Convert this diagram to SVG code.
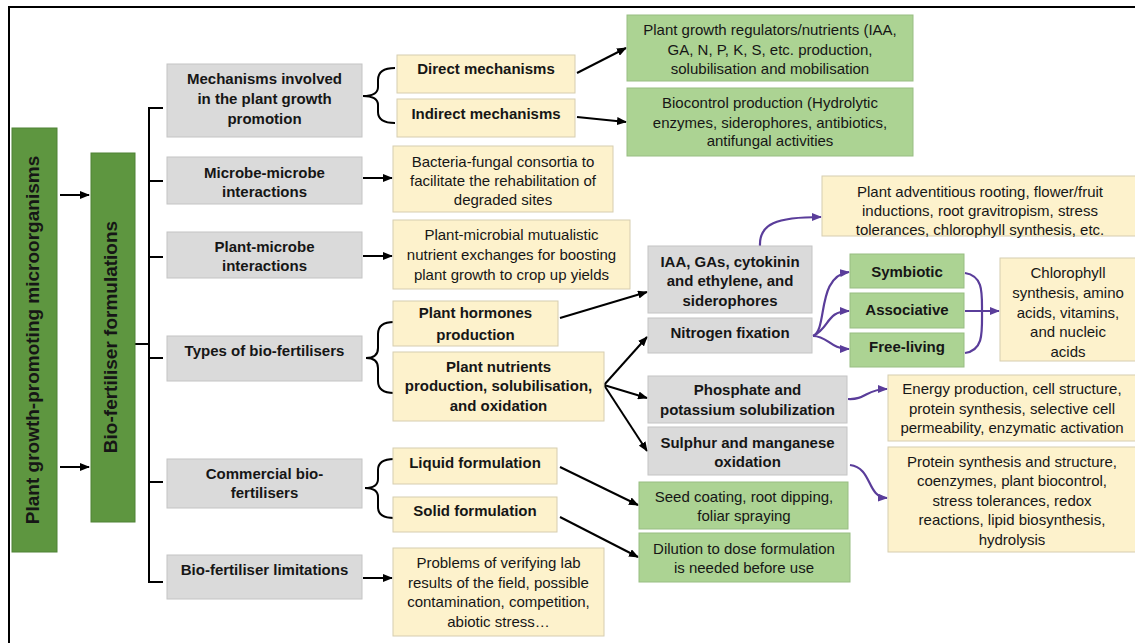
<svg xmlns="http://www.w3.org/2000/svg" width="1135" height="643" viewBox="0 0 1135 643">
<defs>
<style>
.g{fill:#dadada;stroke:#c4c4c4;stroke-width:1}
.y{fill:#fdf2cc;stroke:#d6cdb0;stroke-width:1}
.lg{fill:#acd393;stroke:#98bd82;stroke-width:1}
.dg{fill:#5e9640;stroke:#4f8234;stroke-width:1}
text{font-family:"Liberation Sans",Arial,sans-serif;fill:#161616;text-anchor:middle}
.b{font-size:15px;font-weight:bold}
.r{font-size:15px}
.v{font-size:19px;font-weight:bold}
.k{fill:none;stroke:#000;stroke-width:2}
.ka{fill:none;stroke:#000;stroke-width:2;marker-end:url(#ah)}
.p{fill:none;stroke:#5a3d9a;stroke-width:2.2}
.pa{fill:none;stroke:#5a3d9a;stroke-width:2.2;marker-end:url(#ph)}
</style>
<marker id="ah" markerUnits="userSpaceOnUse" markerWidth="10" markerHeight="8" refX="9" refY="4" orient="auto"><path d="M0,0 L10,4 L0,8 Z" fill="#000"/></marker>
<marker id="ph" markerUnits="userSpaceOnUse" markerWidth="10" markerHeight="8" refX="9" refY="4" orient="auto"><path d="M0,0 L10,4 L0,8 Z" fill="#5a3d9a"/></marker>
</defs>
<rect width="1135" height="643" fill="#fff"/>
<path d="M9,643 V7 H1135" fill="none" stroke="#000" stroke-width="2"/>

<g id="connectors">
<line class="ka" x1="60" y1="195" x2="89" y2="195"/>
<line class="ka" x1="60" y1="467" x2="89" y2="467"/>
<line class="k" x1="135" y1="344" x2="149" y2="344"/>
<path class="k" d="M163,108 H149 V582 H163 M149,181 H163 M149,257 H163 M149,358 H163 M149,482 H163"/>
<line class="ka" x1="363" y1="178" x2="392" y2="178"/>
<line class="ka" x1="363" y1="256" x2="392" y2="256"/>
<line class="ka" x1="363" y1="578" x2="392" y2="578"/>
<path class="k" d="M395,68 Q378,68 378,80 V87 Q378,96 363,96 Q378,96 378,105 V112 Q378,123 395,123"/>
<path class="k" d="M394,322 Q378,322 378,334 V348 Q378,358 366,358 Q378,358 378,368 V381 Q378,393 394,393"/>
<path class="k" d="M394,459 Q378,459 378,470 V479 Q378,488 365,488 Q378,488 378,497 V507 Q378,518 394,518"/>
<line class="ka" x1="577" y1="73" x2="626" y2="48"/>
<line class="ka" x1="577" y1="117" x2="626" y2="122"/>
<line class="ka" x1="560" y1="318" x2="647" y2="292"/>
<line class="ka" x1="604" y1="385" x2="647" y2="337"/>
<line class="ka" x1="604" y1="385" x2="647" y2="398"/>
<line class="ka" x1="604" y1="385" x2="647" y2="451"/>
<line class="ka" x1="560" y1="467" x2="638" y2="505"/>
<line class="ka" x1="560" y1="517" x2="638" y2="557"/>
<path class="pa" d="M760,246 C759,224 776,217 821,217"/>
<path class="pa" d="M813,336 C828,330 816,276 849,272"/>
<path class="pa" d="M813,336 C830,328 826,311 849,311"/>
<path class="pa" d="M813,336 C828,336 830,349 849,349"/>
<path class="p" d="M965,273 C983,276 982,292 982,310 C982,332 984,350 965,353"/>
<path class="pa" d="M965,311 H999"/>
<path class="pa" d="M848,399 C866,400 866,389 887,389"/>
<path class="pa" d="M850,465 C873,468 866,497 887,498"/>
</g>

<g id="pgpm"><rect class="dg" x="12" y="128" width="45" height="424"/><text class="v" transform="translate(39,340) rotate(-90)">Plant growth-promoting microorganisms</text></g>
<g id="bff"><rect class="dg" x="91" y="153" width="44" height="369"/><text class="v" transform="translate(117,337) rotate(-90)">Bio-fertiliser formulations</text></g>

<g id="mech"><rect class="g" x="167" y="64" width="195" height="73"/><text class="b" x="264.5" y="84">Mechanisms involved</text><text class="b" x="264.5" y="104">in the plant growth</text><text class="b" x="264.5" y="124">promotion</text></g>
<g id="mm"><rect class="g" x="167" y="157" width="195" height="47"/><text class="b" x="264.5" y="178">Microbe-microbe</text><text class="b" x="264.5" y="197">interactions</text></g>
<g id="pm"><rect class="g" x="167" y="232" width="195" height="46"/><text class="b" x="264.5" y="252">Plant-microbe</text><text class="b" x="264.5" y="271">interactions</text></g>
<g id="types"><rect class="g" x="167" y="336" width="195" height="45"/><text class="b" x="264.5" y="356">Types of bio-fertilisers</text></g>
<g id="comm"><rect class="g" x="167" y="459" width="195" height="49"/><text class="b" x="264.5" y="479">Commercial bio-</text><text class="b" x="264.5" y="498">fertilisers</text></g>
<g id="lim"><rect class="g" x="167" y="555" width="195" height="44"/><text class="b" x="264.5" y="575">Bio-fertiliser limitations</text></g>

<g id="direct"><rect class="y" x="397" y="55" width="178" height="38"/><text class="b" x="486" y="74">Direct mechanisms</text></g>
<g id="indirect"><rect class="y" x="397" y="99" width="178" height="38"/><text class="b" x="486" y="119">Indirect mechanisms</text></g>
<g id="pgr"><rect class="lg" x="627" y="15" width="286" height="66"/><text class="r" x="770" y="35">Plant growth regulators/nutrients (IAA,</text><text class="r" x="770" y="55">GA, N, P, K, S, etc. production,</text><text class="r" x="770" y="74">solubilisation and mobilisation</text></g>
<g id="bio"><rect class="lg" x="627" y="88" width="286" height="68"/><text class="r" x="770" y="108">Biocontrol production (Hydrolytic</text><text class="r" x="770" y="128">enzymes, siderophores, antibiotics,</text><text class="r" x="770" y="146">antifungal activities</text></g>
<g id="bact"><rect class="y" x="393" y="146" width="220" height="66"/><text class="r" x="503" y="167">Bacteria-fungal consortia to</text><text class="r" x="503" y="186">facilitate the rehabilitation of</text><text class="r" x="503" y="205">degraded sites</text></g>
<g id="plmic"><rect class="y" x="393" y="220" width="237" height="69"/><text class="r" x="511.5" y="240">Plant-microbial mutualistic</text><text class="r" x="511.5" y="260">nutrient exchanges for boosting</text><text class="r" x="511.5" y="280">plant growth to crop up yields</text></g>
<g id="horm"><rect class="y" x="393" y="301" width="165" height="45"/><text class="b" x="475.5" y="318">Plant hormones</text><text class="b" x="475.5" y="340">production</text></g>
<g id="nutr"><rect class="y" x="393" y="352" width="211" height="69"/><text class="b" x="498.5" y="372">Plant nutrients</text><text class="b" x="498.5" y="391">production, solubilisation,</text><text class="b" x="498.5" y="411">and oxidation</text></g>
<g id="liquid"><rect class="y" x="393" y="448" width="164" height="36"/><text class="b" x="475" y="468">Liquid formulation</text></g>
<g id="solid"><rect class="y" x="393" y="497" width="164" height="35"/><text class="b" x="475" y="516">Solid formulation</text></g>
<g id="prob"><rect class="y" x="393" y="548" width="211" height="88"/><text class="r" x="498.5" y="568">Problems of verifying lab</text><text class="r" x="498.5" y="588">results of the field, possible</text><text class="r" x="498.5" y="607">contamination, competition,</text><text class="r" x="498.5" y="627">abiotic stress…</text></g>

<g id="iaa"><rect class="g" x="648" y="246" width="164" height="67"/><text class="b" x="730" y="267">IAA, GAs, cytokinin</text><text class="b" x="730" y="286">and ethylene, and</text><text class="b" x="730" y="306">siderophores</text></g>
<g id="nf"><rect class="g" x="648" y="318" width="164" height="35"/><text class="b" x="730" y="338">Nitrogen fixation</text></g>
<g id="phos"><rect class="g" x="648" y="376" width="199" height="47"/><text class="b" x="747.5" y="395">Phosphate and</text><text class="b" x="747.5" y="415">potassium solubilization</text></g>
<g id="sulph"><rect class="g" x="648" y="427" width="199" height="48"/><text class="b" x="747.5" y="448">Sulphur and manganese</text><text class="b" x="747.5" y="467">oxidation</text></g>
<g id="seed"><rect class="lg" x="639" y="482" width="209" height="47"/><text class="r" x="744" y="502">Seed coating, root dipping,</text><text class="r" x="744" y="521">foliar spraying</text></g>
<g id="dil"><rect class="lg" x="639" y="533" width="211" height="49"/><text class="r" x="744" y="554">Dilution to dose formulation</text><text class="r" x="744" y="573">is needed before use</text></g>

<g id="adv"><rect class="y" x="822" y="176" width="320" height="60"/><text class="r" x="980" y="197">Plant adventitious rooting, flower/fruit</text><text class="r" x="980" y="216">inductions, root gravitropism, stress</text><text class="r" x="980" y="235">tolerances, chlorophyll synthesis, etc.</text></g>
<g id="symb"><rect class="lg" x="850" y="254" width="114" height="34"/><text class="b" x="907" y="277">Symbiotic</text></g>
<g id="assoc"><rect class="lg" x="850" y="293" width="114" height="35"/><text class="b" x="907" y="315">Associative</text></g>
<g id="free"><rect class="lg" x="850" y="333" width="114" height="34"/><text class="b" x="907" y="352">Free-living</text></g>
<g id="chl"><rect class="y" x="1000" y="258" width="140" height="103"/><text class="r" x="1068" y="278">Chlorophyll</text><text class="r" x="1068" y="298">synthesis, amino</text><text class="r" x="1068" y="318">acids, vitamins,</text><text class="r" x="1068" y="337">and nucleic</text><text class="r" x="1068" y="357">acids</text></g>
<g id="energy"><rect class="y" x="888" y="375" width="252" height="66"/><text class="r" x="1012" y="394">Energy production, cell structure,</text><text class="r" x="1012" y="414">protein synthesis, selective cell</text><text class="r" x="1012" y="433">permeability, enzymatic activation</text></g>
<g id="protein"><rect class="y" x="888" y="447" width="252" height="105"/><text class="r" x="1012" y="467">Protein synthesis and structure,</text><text class="r" x="1012" y="486">coenzymes, plant biocontrol,</text><text class="r" x="1012" y="506">stress tolerances, redox</text><text class="r" x="1012" y="525">reactions, lipid biosynthesis,</text><text class="r" x="1012" y="545">hydrolysis</text></g>
</svg>
